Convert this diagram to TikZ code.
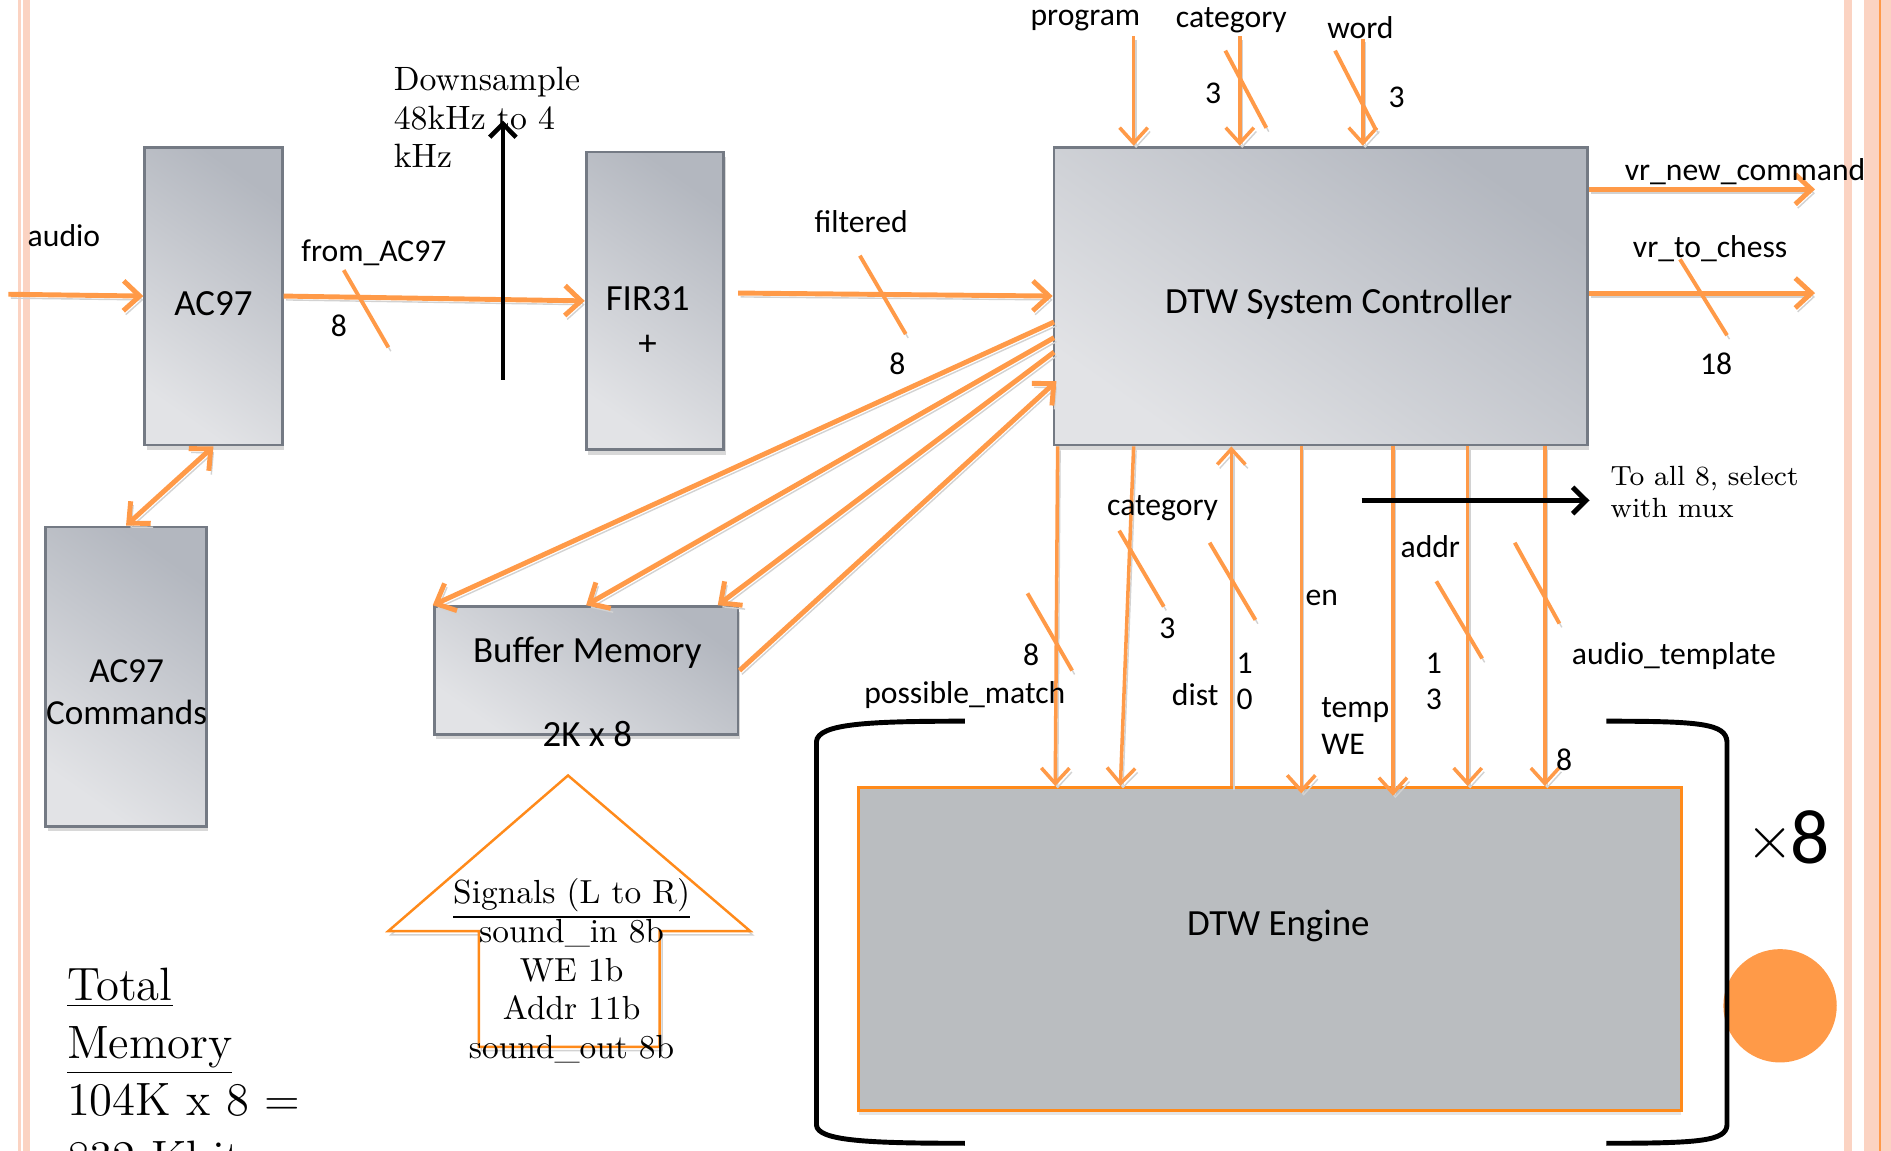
\documentclass[tikz,border=0pt]{standalone}
\usepackage{fontspec}
\newfontfamily\calibri{Carlito}
\usetikzlibrary{arrows.meta,calc,fit,shadows}
\definecolor{Wire}{HTML}{FF9A48}
\definecolor{Flame}{HTML}{FF8A1A}
\definecolor{Stripe}{HTML}{FBD3C2}
\definecolor{BoxEdge}{HTML}{747A84}
\definecolor{BoxDark}{HTML}{B3B7BF}
\definecolor{BoxLight}{HTML}{E2E3E6}
\definecolor{EngineGrey}{HTML}{BABDC0}
\definecolor{Shade}{HTML}{D2D2D2}

\begin{document}
\begin{tikzpicture}[x=0.01206cm,y=-0.01206cm,
  block/.style={draw=BoxEdge,line width=0.8pt,inner sep=0pt,top color=BoxDark,bottom color=BoxLight,shading angle=-35,drop shadow={shadow xshift=0.6pt,shadow yshift=-1.4pt,opacity=0.3}},
  engine/.style={draw=Flame,line width=0.8pt,inner sep=0pt,fill=EngineGrey,drop shadow={shadow xshift=0pt,shadow yshift=-1.2pt,opacity=0.2}},
  lifted/.style={preaction={draw=Shade,transform canvas={shift={(0.7pt,-1.1pt)}}}},
  wire/.style={lifted,draw=Wire,line width=1.4pt,-{Straight Barb[length=4.6pt,width=8.5pt]}},
  feed/.style={lifted,draw=Wire,line width=1pt,-{Straight Barb[length=4.4pt,width=8pt]}},
  slash/.style={lifted,draw=Wire,line width=1.1pt},
  pointer/.style={draw=black,line width=1.3pt,-{Straight Barb[length=3.8pt,width=7.5pt]}},
  bracket/.style={draw=black,line width=1.4pt},
  blocktext/.style={font=\calibri\fontsize{10.5}{12.6}\selectfont,inner sep=0pt},
  sig/.style={font=\calibri\fontsize{9}{10.4}\selectfont,inner sep=0pt},
  serif/.style={font=\fontsize{9.6}{11}\selectfont,inner sep=0pt}
]
\useasboundingbox (0,0) rectangle (1568,954);
\fill[white] (0,0) rectangle (1568,954);
\fill[Stripe] (15,0) rectangle (17.4,954);
\fill[Stripe] (19,0) rectangle (24.9,954);
\fill[Stripe] (1529,0) rectangle (1536,954);
\fill[Stripe] (1546,0) rectangle (1568,954);
\draw[Wire,line width=0.6pt] (1559,0) -- (1559,954);

\node[block,fit={(120,122) (234,369)}] (ac97) {};
\node[block,fit={(486,126) (600,373)}] (fir) {};
\node[block,fit={(874,122) (1316,369)}] (ctrl) {};
\node[block,fit={(360,503) (612,609)}] (buffer) {};
\node[block,fit={(38,437) (171,685)}] (cmds) {};
\node[engine,fit={(712,653) (1394,921)}] (dtw) {};

\node[blocktext] (ac97txt) at (177,252) {AC97};
\node[blocktext] (firtxt) at (537,248) {FIR31};
\node[blocktext] (firplus) at (537,286) {+};
\node[blocktext] (ctrltxt) at (1110,252) {DTW System Controller};
\node[blocktext] (buftxt) at (487,541) {Buffer Memory};
\node[blocktext] (bufsize) at (487,609) {2K x 8};
\node[blocktext,align=center,font=\calibri\fontsize{10}{12.2}\selectfont] (cmdtxt) at (105,574) {AC97\\Commands};
\node[blocktext] (dtwtxt) at (1060,768) {DTW Engine};

\coordinate (audioin) at (7,244);
\draw[wire] (audioin) -- (ac97.west);
\node[sig] (audiolbl) at (53,195) {audio};
\draw[wire] (ac97.east) -- (fir.west);
\node[sig] (fromlbl) at (310,210) {from\_AC97};
\draw[slash] (285,224) -- ++(37,64);
\node[sig] (fromw) at (281,270) {8};
\draw[wire,<->,>={Straight Barb[length=4.6pt,width=8.5pt]}] (cmds.north) -- (ac97.south);

\coordinate (dsbot) at (417,315);
\coordinate (dstop) at (417,100);
\draw[pointer] (dsbot) -- (dstop);
\node[serif,anchor=north west,align=left] (dstxt) at (326,55) {Downsample\\48kHz to 4\\kHz};

\coordinate (firout) at (612,243);
\draw[wire] (firout) -- (ctrl.west);
\node[sig] (filtlbl) at (714,184) {filtered};
\draw[slash] (713,212) -- ++(38,65);
\node[sig] (filtw) at (744,302) {8};

\coordinate (progsrc) at (940,30);
\coordinate (catsrc) at (1028,30);
\coordinate (wordsrc) at (1130,32);
\draw[feed] (progsrc) -- (progsrc |- ctrl.north);
\draw[feed] (catsrc) -- (catsrc |- ctrl.north);
\draw[feed] (wordsrc) -- (wordsrc |- ctrl.north);
\node[sig] (proglbl) at (900,17) {program};
\node[sig] (catlbl) at (1021,17) {category};
\node[sig] (wordlbl) at (1128,23) {word};
\draw[slash] (1016,42) -- ++(34,64);
\draw[slash] (1107,42) -- ++(34,66);
\node[sig] (catw) at (1006,77) {3};
\node[sig] (wordw) at (1158,81) {3};

\coordinate (newcmd) at (1505,157);
\coordinate (tochess) at (1505,243);
\draw[wire] (ctrl.east |- newcmd) -- (newcmd);
\draw[wire] (ctrl.east |- tochess) -- (tochess);
\node[sig] (newlbl) at (1447,142) {vr\_new\_command};
\node[sig] (chesslbl) at (1418,206) {vr\_to\_chess};
\draw[slash] (1393,215) -- ++(39,63);
\node[sig] (chessw) at (1423,302) {18};

\coordinate (port1) at (874,267);
\coordinate (port2) at (874,280);
\coordinate (port3) at (874,292);
\coordinate (port4) at (876,316);
\draw[wire] (port1) -- (buffer.north west);
\draw[wire] (port2) -- (buffer.north);
\draw[wire] (port3) -- ($(buffer.north east)+(-18,0)$);
\draw[wire] (buffer.east) -- (port4);

\draw[feed] (877,0 |- ctrl.south) -- (875,0 |- dtw.north);
\draw[feed] (940,0 |- ctrl.south) -- (929,0 |- dtw.north);
\draw[feed] (1021,0 |- dtw.north) -- (1021,0 |- ctrl.south);
\draw[feed] (1079,0 |- ctrl.south) -- ($(1079,0 |- dtw.north)+(0,6)$);
\draw[feed] (1155,0 |- ctrl.south) -- ($(1155,0 |- dtw.north)+(0,8)$);
\draw[feed] (1217,0 |- ctrl.south) -- (1217,0 |- dtw.north);
\draw[feed] (1281,0 |- ctrl.south) -- (1281,0 |- dtw.north);
\draw[slash] (852,492) -- ++(37,64);
\draw[slash] (928,440) -- ++(37,63);
\draw[slash] (1003,450) -- ++(38,64);
\draw[slash] (1191,482) -- ++(38,64);
\draw[slash] (1256,450) -- ++(37,67);
\node[sig] (matchw) at (855,543) {8};
\node[sig] (matchlbl) at (800,576) {possible\_match};
\node[sig] (bcatlbl) at (964,421) {category};
\node[sig] (bcatw) at (968,521) {3};
\node[sig] (distlbl) at (991,576) {dist};
\node[sig,align=center] (distw) at (1032,565) {1\\0};
\node[sig] (enlbl) at (1096,496) {en};
\node[sig,anchor=west,align=left] (templbl) at (1095,602) {temp\\WE};
\node[sig] (addrlbl) at (1186,453) {addr};
\node[sig,align=center] (addrw) at (1189,565) {1\\3};
\node[sig] (tmpllbl) at (1388,544) {audio\_template};
\node[sig] (tmplw) at (1297,630) {8};

\coordinate (muxsrc) at (1129,415);
\coordinate (muxdst) at (1318,415);
\draw[pointer,line width=1.4pt] (muxsrc) -- (muxdst);
\node[serif,anchor=north west,align=left,font=\fontsize{7.9}{9}\selectfont] (muxtxt) at (1335,386) {To all 8, select\\with mux};

\fill[Wire] (1476,834) circle (47);
\draw[bracket] (800,598) .. controls (720,598) and (678,600) .. (677,615) -- (677,933) .. controls (678,946) and (720,948) .. (800,948);
\draw[bracket] (1332,598) .. controls (1410,598) and (1431,600) .. (1432,615) -- (1432,933) .. controls (1431,946) and (1410,948) .. (1332,948);
\node[font=\fontsize{17}{18}\selectfont,inner sep=0pt] (times) at (1468,699) {$\times$};
\node[font=\calibri\fontsize{22}{24}\selectfont,inner sep=0pt] (eight) at (1501,694) {8};

\draw[lifted,draw=Flame,line width=0.7pt,fill=white] (471,643) -- (622,772) -- (547,772) -- (547,868) -- (397,868) -- (397,772) -- (322,772) -- cycle;
\node[serif,align=center,font=\fontsize{9.5}{11}\selectfont] (sigtxt) at (474,805) {\underline{Signals (L to R)}\\sound\_in 8b\\WE 1b\\Addr 11b\\sound\_out 8b};

\node[serif,anchor=north west,align=left,font=\fontsize{13.3}{16.4}\selectfont] (memtxt) at (55,802) {\underline{Total}\\\underline{Memory}\\104K x 8 =\\832 Kbit};
\end{tikzpicture}
\end{document}
